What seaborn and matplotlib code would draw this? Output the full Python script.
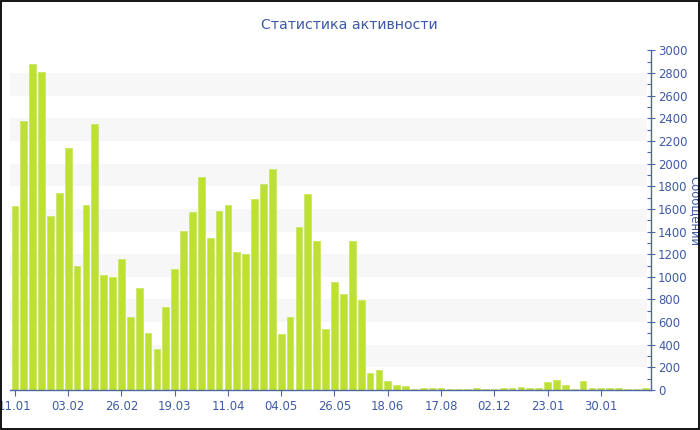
import matplotlib
matplotlib.use("Agg")
import matplotlib.pyplot as plt
import seaborn as sns
import pandas as pd
from matplotlib.patches import Rectangle
from matplotlib.ticker import MultipleLocator

# ---- data ----
values = [1630, 2380, 2885, 2812, 1538, 1738, 2138, 1094, 1632, 2350,
          1018, 1000, 1156, 644, 900, 503, 359, 732, 1068, 1403,
          1574, 1880, 1344, 1579, 1632, 1220, 1200, 1685, 1820, 1955,
          491, 644, 1438, 1735, 1320, 535, 950, 850, 1318, 797,
          153, 179, 79, 40, 36, 12, 16, 18, 14, 12,
          12, 12, 16, 12, 12, 18, 18, 25, 14, 18,
          72, 88, 42, 10, 80, 16, 14, 18, 14, 12,
          12, 16]
tick_labels = ["11.01", "03.02", "26.02", "19.03", "11.04", "04.05",
               "26.05", "18.06", "17.08", "02.12", "23.01", "30.01"]
tick_every = 6
title = "Статистика активности"
ylabel = "Сообщений"

blue = "#3f5aa6"
axis_blue = "#4f66a8"
bar_color = "#bde032"

sns.set_theme(style="white")
plt.rcParams['font.family'] = ['DejaVu Sans']

fig = plt.figure(figsize=(7, 4.3), dpi=100)
ax = fig.add_axes([10/700, 40/430, 641/700, 339.5/430])

# background bands
for lo in range(200, 3000, 400):
    ax.axhspan(lo, lo + 200, xmin=0, xmax=0.993, color="#f7f7f7", zorder=0, lw=0)

df = pd.DataFrame({"idx": list(range(len(values))), "val": values})
sns.barplot(data=df, x="idx", y="val", color=bar_color, width=0.76,
            saturation=1, ax=ax, zorder=2, linewidth=0.6,
            edgecolor="#c9e766")

ax.set_xlim(-0.55, 71.65)
ax.set_ylim(0, 3000)
ax.set_xticks(list(range(0, len(values), tick_every))[:len(tick_labels)])
ax.set_xticklabels(tick_labels)
ax.set_xlabel("")
ax.set_ylabel("")

ax.yaxis.tick_right()
ax.yaxis.set_major_locator(MultipleLocator(200))
ax.yaxis.set_minor_locator(MultipleLocator(100))
ax.tick_params(axis="y", which="major", direction="inout", length=6, width=0.8,
               color=axis_blue, labelcolor=blue, labelsize=8.4, pad=2,
               right=True, left=False)
ax.tick_params(axis="y", which="minor", direction="in", length=3, width=0.8,
               color=axis_blue, right=True, left=False)
ax.tick_params(axis="x", which="major", direction="out", length=4, width=0.8,
               color=axis_blue, labelcolor=blue, labelsize=8.4, pad=3, bottom=True)

for s in ["left", "top"]:
    ax.spines[s].set_visible(False)
for s in ["right", "bottom"]:
    ax.spines[s].set_color(axis_blue)
    ax.spines[s].set_linewidth(1.0)
ax.grid(False)
ax.set_facecolor("white")

fig.text(349/700, 1 - 25/430, title, ha="center", va="center",
         fontsize=10.2, color=blue)
fig.text(695/700, 1 - 211/430, ylabel, ha="center", va="center",
         rotation=270, fontsize=8.4, color=blue)

fig.patches.append(Rectangle((0.7/700, 1.5/430), 697.8/700, 427.8/430,
                             transform=fig.transFigure, fill=False,
                             ec="black", lw=1.3, zorder=10))

fig.savefig("out.png", dpi=100)
